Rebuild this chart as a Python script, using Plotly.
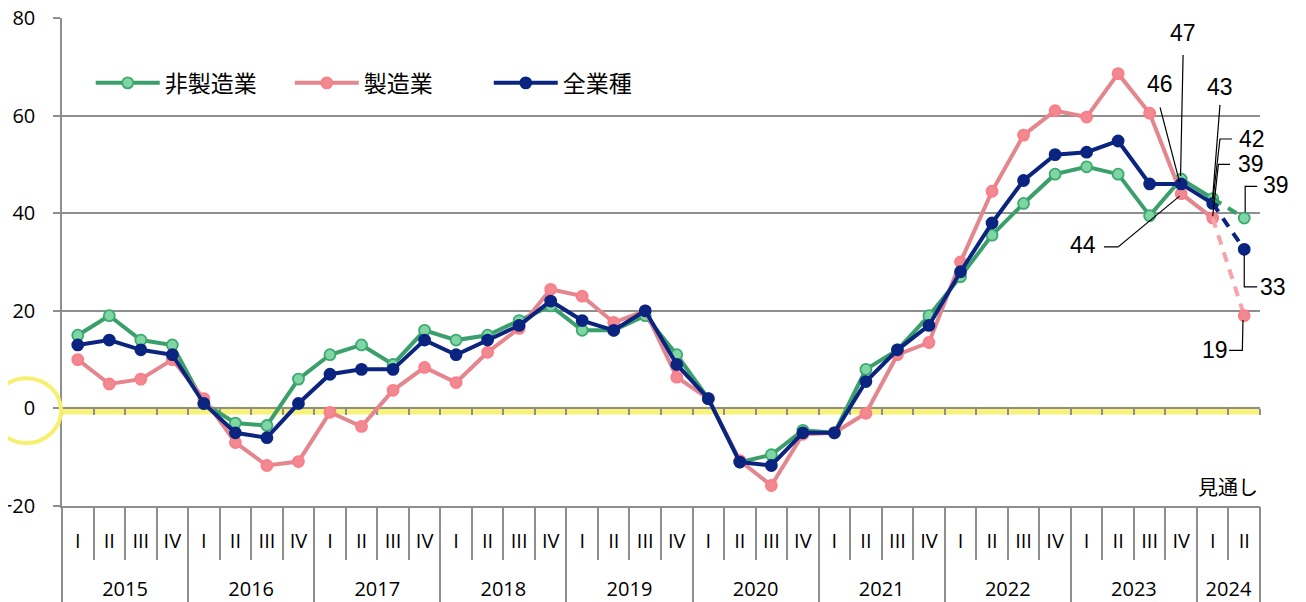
import plotly.graph_objects as go

# ---------------- data ----------------
years = ["2015", "2016", "2017", "2018", "2019", "2020", "2021", "2022", "2023", "2024"]
quarters_per_year = [4, 4, 4, 4, 4, 4, 4, 4, 4, 2]
quarter_names = ["I", "II", "III", "IV"]
quarters = [quarter_names[q] for n in quarters_per_year for q in range(n)]

nonmfg = [15, 19, 14, 13, 1, -3, -3.5, 6, 11, 13, 9, 16, 14, 15, 18, 21, 16, 16, 19, 11,
          2, -11, -9.5, -4.5, -5, 8, 12, 19, 27, 35.5, 42, 48, 49.5, 48, 39.5, 47, 43, 39]
mfg = [10, 5, 6, 10, 2, -7, -11.7, -10.9, -0.8, -3.7, 3.7, 8.4, 5.3, 11.5, 16.4, 24.4, 23, 17.6, 20, 6.4,
       2, -10.7, -15.8, -5.3, -5, -1, 11, 13.5, 30, 44.5, 56, 61, 59.7, 68.6, 60.5, 44, 39, 19]
allind = [13, 14, 12, 11, 1, -5, -6, 1, 7, 8, 8, 14, 11, 14, 17, 22, 18, 16, 20, 9,
          2, -11, -11.7, -5, -5, 5.5, 12, 17, 28, 38, 46.7, 52, 52.5, 54.8, 46, 46, 42, 32.6]
series_names = ["非製造業", "製造業", "全業種"]
forecast_label = "見通し"
y_ticks = [-20, 0, 20, 40, 60, 80]

# ---------------- derived positions ----------------
n = len(quarters)
idx = list(range(n))
year_centers, year_bounds = [], [-0.5]
start = 0
for c in quarters_per_year:
    year_centers.append(start + (c - 1) / 2)
    start += c
    year_bounds.append(start - 0.5)
last_actual = n - 2  # 2024 I is the last actual; 2024 II is forecast

PLOT_W = 1198
rng = [-0.5, n - 0.5]
px_per_cat = PLOT_W / (rng[1] - rng[0])

GRAY = "#8e8e8e"
AX_FONT = "Open Sans, Noto Sans CJK JP, sans-serif"
JP_FONT = "Noto Sans CJK JP, sans-serif"
LBL_FONT = "Liberation Sans, Arial, sans-serif"

styles = [
    dict(line="#3a9f6b", dash_line="#3a9f6b", fill="#80d5a5", edge="#3aab6d"),
    dict(line="#e3868e", dash_line="#f6a3aa", fill="#ef8a93", edge="#ff7b86"),
    dict(line="#0a2480", dash_line="#0a2480", fill="#0a2480", edge="#0a2480"),
]
data = [nonmfg, mfg, allind]

fig = go.Figure()
for name, vals, st in zip(series_names, data, styles):
    fig.add_trace(go.Scatter(
        x=idx[:last_actual + 1], y=vals[:last_actual + 1], name=name,
        mode="lines+markers",
        line=dict(color=st["line"], width=4),
        marker=dict(size=11, color=st["fill"], line=dict(color=st["edge"], width=1.8)),
        hoverinfo="skip", cliponaxis=False,
    ))
for name, vals, st in zip(series_names, data, styles):
    fig.add_trace(go.Scatter(
        x=idx[last_actual:], y=vals[last_actual:], name=name + " " + forecast_label,
        mode="lines", showlegend=False,
        line=dict(color=st["dash_line"], width=4, dash="10px,8px"),
        hoverinfo="skip", cliponaxis=False,
    ))
for name, vals, st in zip(series_names, data, styles):
    fig.add_trace(go.Scatter(
        x=idx[-1:], y=vals[-1:], mode="markers", showlegend=False,
        marker=dict(size=11, color=st["fill"], line=dict(color=st["edge"], width=1.8)),
        hoverinfo="skip", cliponaxis=False,
    ))

# dummy traces that carry the helper axes (year labels, zero line)
fig.add_trace(go.Scatter(x=year_centers, y=[None] * len(year_centers), xaxis="x2",
                         showlegend=False, hoverinfo="skip"))
fig.add_trace(go.Scatter(x=year_centers, y=[None] * len(year_centers), xaxis="x3",
                         showlegend=False, hoverinfo="skip"))

# ---------------- data labels with leader lines ----------------
# (series index, point index, text offset (dx, dy), leader polyline offsets)
label_specs = [
    (0, n - 3, (0.06, 29.9), [(0.06, 25.4), (-0.02, 0.6)]),
    (2, n - 3, (-0.67, 20.4), [(-0.67, 15.7), (-0.05, 0.3)]),
    (1, n - 3, (-3.11, -10.5), [(-2.45, -10.9), (-2.0, -10.9), (-0.05, -0.5)]),
    (0, n - 2, (0.23, 22.9), [(0.23, 19.2), (0.0, 0.3)]),
    (2, n - 2, (1.25, 13.2), [(0.61, 13.2), (0.23, 13.2), (0.0, 0.3)]),
    (1, n - 2, (1.22, 11.0), [(0.55, 11.0), (0.18, 11.0), (0.0, 0.4)]),
    (0, n - 1, (1.0, 6.8), [(0.41, 6.5), (0.03, 6.5), (0.03, 1.2)]),
    (2, n - 1, (0.9, -7.8), [(0.0, -1.1), (0.0, -7.7), (0.41, -7.7)]),
    (1, n - 1, (-0.93, -7.1), [(-0.04, -0.9), (-0.06, -7.1), (-0.48, -7.1)]),
]
shapes = []
annotations = []
for s, i, (tdx, tdy), path in label_specs:
    v = data[s][i]
    tx = i + tdx
    xshift = 0
    if tx > rng[1] - 0.01:
        xshift = (tx - (rng[1] - 0.01)) * px_per_cat
        tx = rng[1] - 0.01
    annotations.append(dict(
        x=tx, y=v + tdy, xref="x", yref="y", text=f"{round(v)}", showarrow=False,
        xshift=xshift, xanchor="center", yanchor="middle",
        font=dict(family=LBL_FONT, size=23, color="#000000"),
    ))
    pts = [(i + dx, v + dy) for dx, dy in path]
    d = "M " + " L ".join(f"{px},{py}" for px, py in pts)
    shapes.append(dict(type="path", path=d, xref="x", yref="y",
                       line=dict(color="#000000", width=1.2), layer="above"))

# yellow highlight of the zero line and ellipse round the "0" label
shapes.append(dict(type="rect", xref="paper", yref="y", x0=0, x1=1, y0=-1.25, y1=0.35,
                   fillcolor="#f7f27a", line=dict(width=0), layer="below"))
shapes.append(dict(type="circle", xref="paper", yref="paper", x0=-0.0584, x1=-0.0008,
                   y0=0.129, y1=0.262, line=dict(color="#f7f06e", width=4), layer="above"))

annotations.append(dict(x=1, y=0.039, xref="paper", yref="paper", text=forecast_label,
                        showarrow=False, xanchor="right", yanchor="middle",
                        font=dict(family=JP_FONT, size=20, color="#000000")))

# the page body has an 8px margin, so the figure is 8px smaller and margins shifted
fig.update_layout(
    width=1298, height=594,
    margin=dict(l=54, r=46, t=10, b=96, autoexpand=False),
    paper_bgcolor="white", plot_bgcolor="white",
    shapes=shapes, annotations=annotations,
    showlegend=True,
    legend=dict(orientation="h", x=0.024, y=0.867, xanchor="left", yanchor="middle",
                bgcolor="rgba(0,0,0,0)", font=dict(family=JP_FONT, size=23, color="#000000"),
                itemwidth=64, entrywidth=120, entrywidthmode="pixels", traceorder="normal"),
    xaxis=dict(
        range=rng, tickmode="array", tickvals=idx, ticktext=quarters, ticks="",
        showgrid=False, zeroline=False, showline=True, linecolor=GRAY, linewidth=1.5,
        tickfont=dict(family=AX_FONT, size=20, color="#000000"), ticklabelstandoff=16,
        ticklabeloverflow="allow",
        minor=dict(tick0=0.5, dtick=1, ticks="outside", ticklen=52, tickcolor=GRAY,
                   tickwidth=1.5, showgrid=False),
        fixedrange=True,
    ),
    xaxis2=dict(
        range=rng, overlaying="x", anchor="y", side="bottom", tickmode="array",
        tickvals=year_centers, ticktext=years, ticks="", showgrid=False, zeroline=False,
        showline=False, tickfont=dict(family=AX_FONT, size=20, color="#000000"),
        ticklabelstandoff=69, ticklabeloverflow="allow",
        minor=dict(tickmode="array", tickvals=year_bounds, ticks="outside", ticklen=100,
                   tickcolor=GRAY, tickwidth=1.5, showgrid=False),
    ),
    xaxis3=dict(
        range=rng, overlaying="x", anchor="free", position=0.2, showticklabels=False,
        ticks="", showgrid=False, zeroline=False, showline=True, linecolor=GRAY, linewidth=1.5,
        layer="below traces",
        minor=dict(tick0=0.5, dtick=1, ticks="outside", ticklen=6, tickcolor=GRAY,
                   tickwidth=1.5, showgrid=False),
    ),
    yaxis=dict(
        range=[-20, 80], tickmode="array", tickvals=y_ticks, ticks="outside", ticklen=7,
        tickcolor=GRAY, tickwidth=1.5, showgrid=True, gridcolor=GRAY, gridwidth=1.5,
        zeroline=False, showline=True, linecolor=GRAY, linewidth=1.5,
        tickfont=dict(family=AX_FONT, size=20, color="#000000"), ticklabelstandoff=14,
        ticklabeloverflow="allow", layer="below traces", fixedrange=True,
    ),
)

fig.write_html("out.html")
